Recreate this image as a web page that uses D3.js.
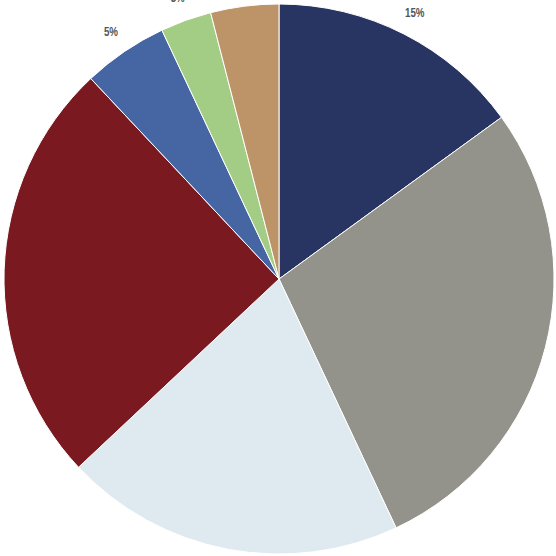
<!DOCTYPE html>
<html><head><meta charset="utf-8">
<script src="https://cdn.jsdelivr.net/npm/d3@7"></script>
<style>html,body{margin:0;padding:0;background:#fff;overflow:hidden}</style>
</head><body>
<svg id="chart" width="556" height="556"></svg>
<script>
const categories = ["A","B","C","D","E","F","G"];
const values = [15, 28, 20, 25, 5, 3, 4];
// only the labels visible in the reference (others fall outside the frame)
const labels = ["15%","","","","5%","3%",""];
const colors = ["#283462","#93938b","#deeaf0","#7a1a20","#4566a3","#a3cc84","#bd9468"];

const svg = d3.select("#chart");
const cx = 279, cy = 279, r = 275, lr = 299;
const g = svg.append("g").attr("transform", `translate(${cx},${cy})`);
const pie = d3.pie().sort(null).value(d => d.v);
const data = pie(categories.map((c,i)=>({c, v: values[i], l: labels[i], col: colors[i]})));
const arc = d3.arc().innerRadius(0).outerRadius(r);
g.selectAll("path").data(data).join("path")
  .attr("d", arc)
  .attr("fill", d => d.data.col)
  .attr("stroke", "#fff").attr("stroke-width", 1);
const larc = d3.arc().innerRadius(lr).outerRadius(lr);
g.selectAll("text").data(data.filter(d => d.data.l)).join("text")
  .attr("transform", d => `translate(${larc.centroid(d)}) scale(0.78,1)`)
  .attr("text-anchor", "middle")
  .attr("dy", "0.35em")
  .attr("font-family", "'Liberation Sans',Arial,sans-serif")
  .attr("font-weight", "bold")
  .attr("font-size", 12.5)
  .attr("fill", "#555")
  .text(d => d.data.l);
</script>
</body></html>
